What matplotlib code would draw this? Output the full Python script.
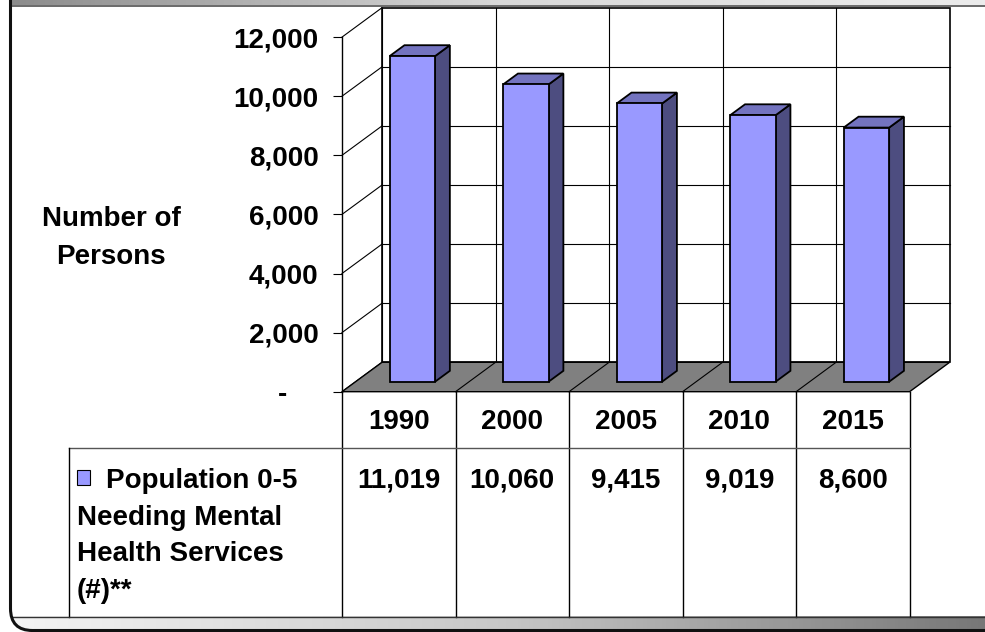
import numpy as np
import matplotlib
matplotlib.use("Agg")
import matplotlib.pyplot as plt
from matplotlib.patches import Polygon, Rectangle, FancyBboxPatch
from matplotlib.lines import Line2D
from matplotlib.transforms import IdentityTransform
from matplotlib.colors import LinearSegmentedColormap

# ---- data ----
years = ["1990", "2000", "2005", "2010", "2015"]
persons = [11019, 10060, 9415, 9019, 8600]
value_labels = ["11,019", "10,060", "9,415", "9,019", "8,600"]
y_ticks = [0, 2000, 4000, 6000, 8000, 10000, 12000]
y_tick_labels = ["-    ", "2,000", "4,000", "6,000", "8,000", "10,000", "12,000"]
series_lines = ["Population 0-5", "Needing Mental", "Health Services", "(#)**"]
ylabel_lines = ["Number of", "Persons"]

W, H = 985, 632
DX, DY = 40, 29.4          # depth offset of the back wall, pixels
FRONT, SIDE, TOP = "#9999FF", "#4D4D80", "#7373BF"
FLOOR = "#808080"
FS = 20

plt.rcParams["font.family"] = ["Liberation Sans", "DejaVu Sans"]
plt.rcParams["font.weight"] = "bold"

fig = plt.figure(figsize=(W / 100, H / 100), dpi=100)
bg = fig.add_axes([0, 0, 1, 1])
bg.set_xlim(0, W)
bg.set_ylim(H, 0)
bg.axis("off")

ax = fig.add_axes([342 / W, 1 - 391.7 / H, 567.6 / W, 354.6 / H])
ax.set_facecolor("none")
n = len(years)
ax.set_xlim(0, n)
ax.set_ylim(0, 12000)
for s in ["top", "right", "bottom"]:
    ax.spines[s].set_visible(False)
ax.spines["left"].set_linewidth(1)
ax.spines["left"].set_zorder(6)
ax.set_xticks([])
ax.set_yticks(y_ticks, y_tick_labels, fontsize=FS, fontweight="bold")
ax.tick_params(axis="y", length=6.5, width=0.8, pad=10.5, direction="out")


def proj(x, y, z):
    px, py = ax.transData.transform((x, y))
    return (px + z * DX, py + z * DY)


def face(pts, fc, lw=1.3, zo=2):
    ax.add_patch(Polygon([proj(*p) for p in pts], closed=True,
                         transform=IdentityTransform(), facecolor=fc,
                         edgecolor="black", lw=lw, zorder=zo, clip_on=False,
                         joinstyle="miter"))


def seg(p, q, lw=0.8, color="black", zo=1):
    a, b = proj(*p), proj(*q)
    ax.add_line(Line2D([a[0], b[0]], [a[1], b[1]], transform=IdentityTransform(),
                       color=color, lw=lw, zorder=zo, clip_on=False))


# back wall with gridlines
face([(0, 0, 1), (n, 0, 1), (n, 12000, 1), (0, 12000, 1)], "white", lw=1.2, zo=0.5)
for yv in y_ticks[1:-1]:
    seg((0, yv, 1), (n, yv, 1))
for i in range(1, n):
    seg((i, 0, 1), (i, 12000, 1))
# side wall
for yv in y_ticks:
    seg((0, yv, 0), (0, yv, 1))
seg((0, 0, 1), (0, 12000, 1))
# floor
face([(0, 0, 0), (n, 0, 0), (n, 0, 1), (0, 0, 1)], FLOOR, lw=1, zo=1.5)
for i in range(1, n):
    seg((i, 0, 0), (i, 0, 1), zo=1.6)

# bars
z0, z1 = 0.34, 0.71
for i, v in enumerate(persons):
    x0, x1 = i + 0.3, i + 0.7
    face([(x1, 0, z0), (x1, 0, z1), (x1, v, z1), (x1, v, z0)], SIDE, zo=3)
    face([(x0, v, z0), (x1, v, z0), (x1, v, z1), (x0, v, z1)], TOP, zo=3)
    face([(x0, 0, z0), (x1, 0, z0), (x1, v, z0), (x0, v, z0)], FRONT, zo=3)

# ---- data table ----
xpix = [ax.transData.transform((i, 0))[0] for i in range(n + 1)]
tab_top, row_div, tab_bot, tab_left = 391.7, 447.7, 617.3, 69.3
for xp in xpix:
    bg.plot([xp, xp], [tab_top, tab_bot], color="black", lw=1)
bg.plot([tab_left, xpix[-1]], [row_div, row_div], color="#555555", lw=1)
bg.plot([tab_left, tab_left], [row_div, tab_bot], color="black", lw=1)
for i in range(n):
    cx = (xpix[i] + xpix[i + 1]) / 2
    bg.text(cx, 429.3, years[i], ha="center", va="baseline", fontsize=FS, fontweight="bold")
    bg.text(cx, 488, value_labels[i], ha="center", va="baseline", fontsize=FS, fontweight="bold")

bg.add_patch(Rectangle((77, 470), 13, 15, facecolor=FRONT, edgecolor="black", lw=0.8))
for k, line in enumerate(series_lines):
    bg.text(106 if k == 0 else 77, 488 + 36.7 * k, line, ha="left", va="baseline",
            fontsize=FS, fontweight="bold")

for k, line in enumerate(ylabel_lines):
    bg.text(111, 225.7 + 38 * k, line, ha="center", va="baseline", fontsize=FS, fontweight="bold")

# ---- frame ----
frame = FancyBboxPatch((10.5, -60), 1100, 690.5, boxstyle="round,pad=0,rounding_size=22",
                       facecolor="none", edgecolor="#111111", lw=2.2, zorder=5)
bg.add_patch(frame)
grad = np.linspace(0, 1, 256).reshape(1, -1)
top_cmap = LinearSegmentedColormap.from_list("top", ["#8c8c8c", "#d8d8d8", "#ececec"])
bot_cmap = LinearSegmentedColormap.from_list("bot", ["#f4f4f4", "#c8c8c8", "#777777"])
bg.imshow(grad, cmap=top_cmap, extent=[10.5, W, 5.5, 0], aspect="auto", zorder=1)
bg.plot([10.5, W], [5.8, 5.8], color="#505050", lw=1.2, zorder=2)
im = bg.imshow(grad, cmap=bot_cmap, extent=[10.5, W, 630.5, 617.3], aspect="auto", zorder=1)
im.set_clip_path(frame)
ln, = bg.plot([10.5, W], [617.3, 617.3], color="#333333", lw=1, zorder=2)
ln.set_clip_path(frame)
bg.set_xlim(0, W)
bg.set_ylim(H, 0)

fig.savefig("out.png", dpi=100)
